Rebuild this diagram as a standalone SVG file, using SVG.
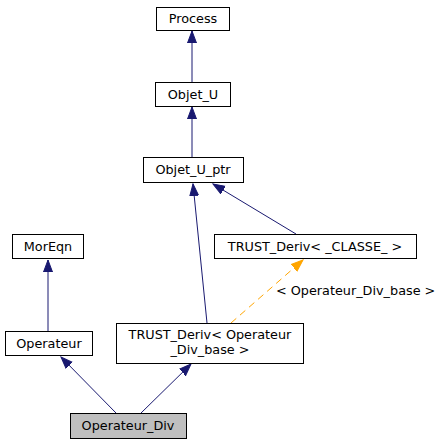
<svg xmlns="http://www.w3.org/2000/svg" width="443" height="445" viewBox="0 0 443 445">
<style>
.box{fill:#fff;stroke:#000;stroke-width:1}
.cur{fill:#bfbfbf;stroke:#000;stroke-width:1}
text{font-family:"DejaVu Sans","Liberation Sans",sans-serif;font-size:12.8px;fill:#000}
.e{stroke:#191970;stroke-width:1;fill:none;marker-end:url(#a)}
.t{stroke:#ffa500;stroke-width:1;fill:none;stroke-dasharray:7,5;marker-end:url(#o)}
</style>
<defs>
<marker id="a" markerUnits="userSpaceOnUse" markerWidth="14" markerHeight="11" refX="12" refY="5" orient="auto"><path d="M0,0.5 L12,5 L0,9.5 z" fill="#191970" stroke="#191970"/></marker>
<marker id="o" markerUnits="userSpaceOnUse" markerWidth="14" markerHeight="11" refX="12" refY="5" orient="auto"><path d="M0,0.5 L12,5 L0,9.5 z" fill="#ffa500" stroke="#ffa500"/></marker>
</defs>
<rect width="443" height="445" fill="#fff"/>
<g id="edges">
<path class="e" d="M192,82 L192,31"/>
<path class="e" d="M192,157 L192,107"/>
<path class="e" d="M296,234 L213,184"/>
<path class="e" d="M207,323 L193,184"/>
<path class="t" d="M231,323 L303,260"/>
<text x="276" y="295">&lt; Operateur_Div_base &gt;</text>
<path class="e" d="M48,331 L48,260"/>
<path class="e" d="M117,414 L61,357"/>
<path class="e" d="M140,414 L191,364"/>
</g>
<g id="Process"><rect class="box" x="156.5" y="7.5" width="73" height="23"/><text x="193" y="23" text-anchor="middle">Process</text></g>
<g id="Objet_U"><rect class="box" x="155.5" y="82.5" width="75" height="24"/><text x="193" y="99" text-anchor="middle">Objet_U</text></g>
<g id="Objet_U_ptr"><rect class="box" x="143.5" y="157.5" width="100" height="25"/><text x="193" y="174" text-anchor="middle">Objet_U_ptr</text></g>
<g id="TRUST_Deriv_CLASSE"><rect class="box" x="214.5" y="234.5" width="202" height="24"/><text x="315" y="251" text-anchor="middle">TRUST_Deriv&lt; _CLASSE_ &gt;</text></g>
<g id="MorEqn"><rect class="box" x="12.5" y="234.5" width="71" height="24"/><text x="48" y="251" text-anchor="middle">MorEqn</text></g>
<g id="Operateur"><rect class="box" x="5.5" y="331.5" width="87" height="24"/><text x="49" y="348" text-anchor="middle">Operateur</text></g>
<g id="TRUST_Deriv_Op"><rect class="box" x="116.5" y="323.5" width="187" height="40"/><text x="210" y="339" text-anchor="middle">TRUST_Deriv&lt; Operateur</text><text x="210" y="354" text-anchor="middle">_Div_base &gt;</text></g>
<g id="Operateur_Div"><rect class="cur" x="70.5" y="413.5" width="116" height="25"/><text x="128" y="430" text-anchor="middle">Operateur_Div</text></g>
</svg>
